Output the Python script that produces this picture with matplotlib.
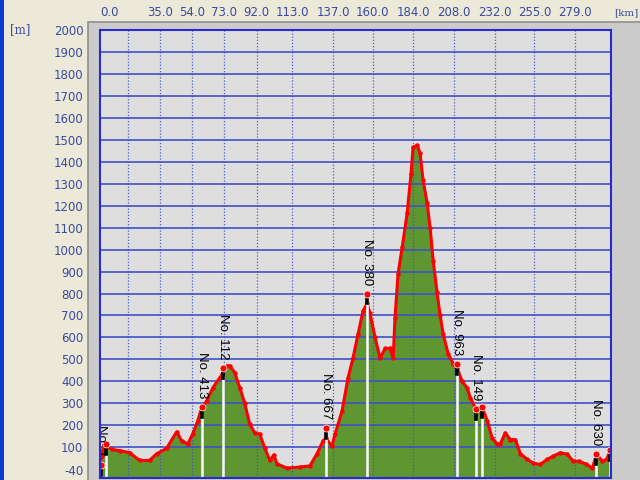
import matplotlib
matplotlib.use('Agg')
import matplotlib.pyplot as plt
from matplotlib.patches import Rectangle

# elevation profile
dist_km = [0.0, 0.9, 2.1, 3.8, 6.8, 11.5, 17.4, 23.2, 29.1, 33.2, 39.1, 45.0, 47.9,
           51.5, 54.4, 57.4, 59.7, 62.6, 66.2, 71.5, 74.4, 76.2, 79.1, 82.1, 85.0,
           87.9, 90.9, 93.8, 96.8, 99.7, 102.1, 103.8, 109.7, 117.4, 123.2, 127.4,
           131.0, 132.6, 136.2, 138.0, 142.1, 145.6, 148.5, 151.5, 154.4, 156.8,
           158.5, 161.5, 164.4, 167.4, 170.3, 172.1, 173.2, 175.0, 177.4, 180.3,
           182.6, 183.8, 186.2, 187.9, 189.7, 192.1, 193.8, 195.6, 197.9, 199.7,
           201.5, 204.4, 207.4, 209.7, 212.6, 215.6, 217.4, 220.3, 224.4, 227.4,
           230.3, 233.2, 235.0, 237.9, 240.9, 243.8, 246.8, 250.9, 254.4, 258.5,
           262.6, 266.2, 270.3, 274.4, 277.9, 281.5, 285.6, 289.1, 291.5, 295.0,
           297.4, 299.5]
elev_m = [10, 60, 110, 105, 90, 85, 75, 40, 40, 70, 95, 170, 130,
          115, 160, 220, 280, 310, 370, 430, 470, 470, 440, 370, 300,
          205, 165, 160, 95, 40, 65, 25, 5, 10, 15, 70,
          130, 140, 105, 160, 265, 415, 505, 615, 720, 755,
          710, 600, 505, 550, 550, 505, 690, 890, 1010, 1165,
          1345, 1465, 1475, 1440, 1315, 1210, 1100, 950, 805, 700,
          615, 525, 480, 460, 400, 370, 325, 280, 280, 220,
          140, 115, 115, 165, 135, 135, 70, 45, 27, 22,
          45, 60, 75, 68, 36, 36, 22, 5, 68, 36,
          45, 82]

# waypoints
wp_km = [0.3, 3.3, 59.7, 72.1, 132.6, 156.8, 209.7, 221.0, 224.0, 291.3, 299.5]
wp_elev = [20, 115, 285, 462, 188, 800, 480, 275, 282, 70, 88]
wp_label = ["No. 1", "", "No. 413", "No. 112", "No. 667", "No. 380",
            "No. 963", "No. 149", "", "No. 630", ""]

y_ticks = [-40] + list(range(100, 2001, 100))
x_grid = [16.3, 35, 54, 73, 92, 113, 137, 160, 184, 208, 232, 255, 279]
x_ticks = [0, 35, 54, 73, 92, 113, 137, 160, 184, 208, 232, 255, 279]

blue_txt = '#3a4aa0'
grid_blue = '#3f4fc8'

fig = plt.figure(figsize=(6.4, 4.8), dpi=100)
fig.patch.set_facecolor('#ECE9D8')

# window border and grey panel behind the plot
fig.add_artist(Rectangle((0, 0), 4 / 640, 1, transform=fig.transFigure,
                         facecolor='#0b3bd4', edgecolor='none', zorder=-5))
fig.add_artist(Rectangle((88 / 640, -0.01), 1, (480 - 22) / 480 + 0.01,
                         transform=fig.transFigure, facecolor='#CBCBCB',
                         edgecolor='#8f8f8f', linewidth=1.2, zorder=-5))

ax = fig.add_axes([100 / 640, 2 / 480, 511 / 640, 448 / 480])
ax.set_facecolor('#DEDEDE')
ax.set_xlim(0, 300)
ax.set_ylim(-40, 2000)

ax.fill_between(dist_km, elev_m, -40, color='#5E9632', zorder=1, linewidth=0)

for v in range(100, 2000, 100):
    ax.axhline(v, color=grid_blue, lw=1.4, alpha=0.85, zorder=2)
for g in x_grid:
    ax.axvline(g, color=grid_blue, lw=0.9, ls=(0, (1, 1.5)), alpha=0.9, zorder=2)

ax.plot(dist_km, elev_m, color='#FF0000', lw=2.2, marker='o', ms=2.2, zorder=4)

# waypoint posts
for km, h, lab in zip(wp_km, wp_elev, wp_label):
    ax.plot([km, km], [-40, h - 40], color='white', lw=1.8, zorder=5)
    ax.plot([km, km], [h - 45, h - 5], color='black', lw=2.6, zorder=6)
    ax.plot(km, h, 'o', color='#FF0000', ms=5, mec='#ffdddd', mew=0.6, zorder=7)
    if lab:
        ax.annotate(lab, (km, h), xytext=(0, 6), textcoords='offset points',
                    rotation=-90, rotation_mode='anchor', ha='right', va='center',
                    fontsize=9.5, family='Liberation Sans', color='black', zorder=8)

ax.set_yticks(y_ticks)
ax.set_yticklabels([str(v) for v in y_ticks])
ax.set_xticks(x_ticks)
ax.set_xticklabels(['%.1f' % v for v in x_ticks])
ax.xaxis.tick_top()
ax.tick_params(axis='both', length=0, colors=blue_txt, labelsize=8.5)
ax.tick_params(axis='y', pad=12)
ax.tick_params(axis='x', pad=8)
ax.get_xticklabels()[0].set_ha('left')
ax.get_yticklabels()[0].set_va('bottom')

for sp in ax.spines.values():
    sp.set_color('#2a2ad0')
    sp.set_linewidth(1.5)
    sp.set_zorder(9)

fig.text(10 / 640, 1 - 30 / 480, '[m]', color=blue_txt, fontsize=8.5,
         family='DejaVu Serif', va='center')
fig.text(614 / 640, 1 - 13 / 480, '[km]', color=blue_txt, fontsize=7.5,
         family='DejaVu Serif', va='center')

fig.savefig('out.png', dpi=100, facecolor=fig.get_facecolor())
